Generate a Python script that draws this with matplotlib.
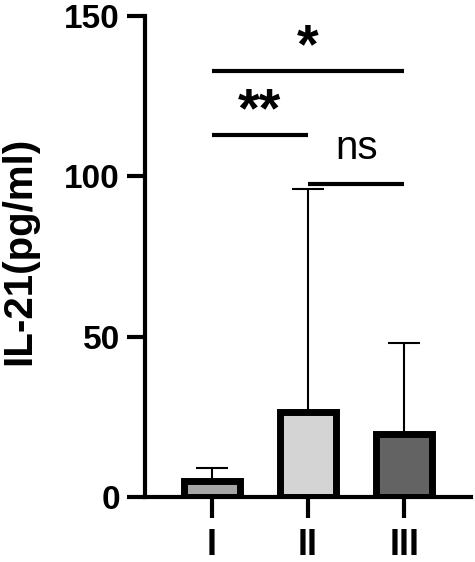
import matplotlib
matplotlib.use("Agg")
import matplotlib.pyplot as plt

# data
groups = ["I", "II", "III"]
means = [5.0, 26.5, 19.5]
sd_upper = [4.0, 69.5, 28.5]
bar_colors = ["#a6a6a6", "#d4d4d4", "#636363"]

# significance brackets: (left group, right group, height, label)
comparisons = [
    (0, 2, 133, "*"),
    (0, 1, 113, "**"),
    (1, 2, 97.5, "ns"),
]

plt.rcParams["font.family"] = ["Liberation Sans", "DejaVu Sans"]

fig = plt.figure(figsize=(4.75, 5.62), dpi=100)
ax = fig.add_axes([145 / 475, 65 / 562, 326 / 475, 481 / 562])

x = list(range(len(groups)))
ax.bar(x, means, width=0.58, color=bar_colors, edgecolor="black",
       linewidth=5, zorder=2)
ax.errorbar(x, means, yerr=[[0] * len(groups), sd_upper], fmt="none",
            ecolor="black", elinewidth=1.5, capsize=11.5, capthick=1.5,
            zorder=1)

for left, right, h, label in comparisons:
    ax.plot([left, right], [h, h], color="black", lw=3, solid_capstyle="butt")
    if label == "ns":
        ax.text((left + right) / 2, h + 8, label, ha="center", va="baseline",
                fontsize=29)
    else:
        ax.text((left + right) / 2, h + 2.5, label, ha="center",
                va="baseline", fontsize=40, fontweight="bold")

ax.set_xlim(-0.69, 2.69)
ax.set_ylim(0, 150)
ax.set_yticks([0, 50, 100, 150])
ax.set_xticks(x)
ax.set_xticklabels(groups)
fig.text(19 / 475, 1 - 251 / 562, "IL-21(pg/ml)", rotation=90, ha="center",
         va="center", fontsize=29, fontweight="bold")

for side in ["top", "right"]:
    ax.spines[side].set_visible(False)
for side in ["left", "bottom"]:
    ax.spines[side].set_linewidth(3)
ax.tick_params(axis="both", width=3, length=13)
ax.tick_params(axis="y", labelsize=24, pad=5)
ax.tick_params(axis="x", labelsize=26, pad=7, length=15)
for lbl in ax.get_xticklabels() + ax.get_yticklabels():
    lbl.set_fontweight("bold")

fig.savefig("out.png", dpi=100)
